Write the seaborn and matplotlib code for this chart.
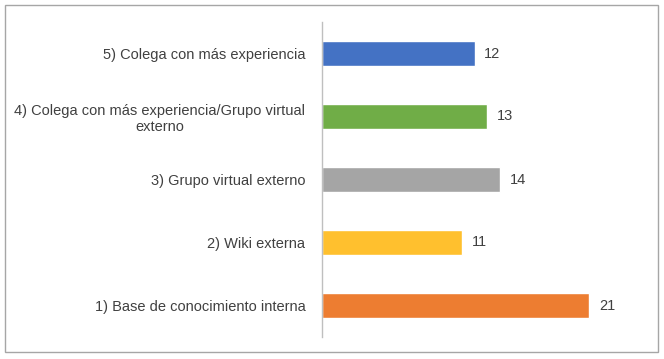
import matplotlib
matplotlib.use("Agg")
import matplotlib.pyplot as plt
from matplotlib.patches import Rectangle
import seaborn as sns
import pandas as pd

categorias = [
    "5) Colega con más experiencia",
    "4) Colega con más experiencia/Grupo virtual\nexterno",
    "3) Grupo virtual externo",
    "2) Wiki externa",
    "1) Base de conocimiento interna",
]
valores = [12, 13, 14, 11, 21]
colores = ["#4472C4", "#70AD47", "#A5A5A5", "#FFC02E", "#ED7D31"]

df = pd.DataFrame({"categoria": categorias, "valor": valores})

sns.set_style("white")
plt.rcParams["font.family"] = ["Liberation Sans", "DejaVu Sans"]

fig = plt.figure(figsize=(6.64, 3.59), dpi=100)
ax = fig.add_axes([322 / 664, 1 - 337 / 359, (640 - 322) / 664, (337 - 22) / 359])

sns.barplot(data=df, x="valor", y="categoria", hue="categoria", palette=colores,
            orient="h", width=0.4, legend=False, ax=ax, saturation=1)

ax.set_xlim(0, 25)
ax.set_ylim(4.5, -0.5)
ax.set_xlabel("")
ax.set_ylabel("")
ax.set_xticks([])
for s in ["top", "right", "bottom"]:
    ax.spines[s].set_visible(False)
ax.spines["left"].set_color("#BFBFBF")
ax.spines["left"].set_linewidth(1)
ax.tick_params(axis="y", length=0, pad=12, labelsize=10.5, labelcolor="#404040")
for lbl in ax.get_yticklabels():
    lbl.set_multialignment("center")

for c in ax.containers:
    ax.bar_label(c, padding=7, fontsize=10.5, color="#404040")

fig.patches.append(Rectangle((5 / 664, 7 / 359), 653 / 664, 347 / 359,
                             transform=fig.transFigure, fill=False,
                             edgecolor="#A6A6A6", linewidth=1))

fig.savefig("out.png", dpi=100)
